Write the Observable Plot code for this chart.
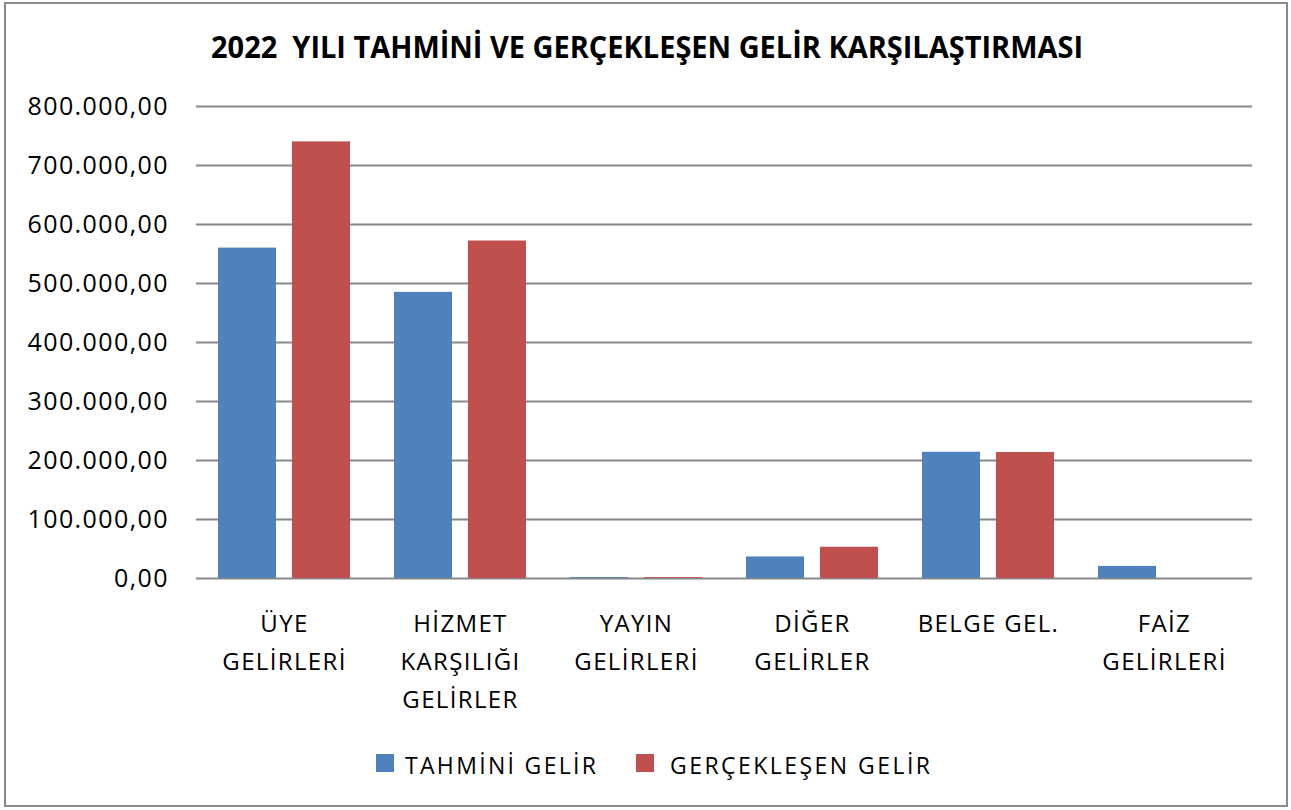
<!DOCTYPE html>
<html>
<head>
<meta charset="utf-8">
<script src="https://cdn.jsdelivr.net/npm/d3@7"></script>
<script src="https://cdn.jsdelivr.net/npm/@observablehq/plot@0.6"></script>
<style>
  html, body { margin: 0; padding: 0; background: #fff; }
  #page { position: relative; width: 1291px; height: 810px; overflow: hidden; font-family: "Open Sans", sans-serif; color: #000; }
  #frame { position: absolute; left: 4px; top: 2px; width: 1284px; height: 805px; border: 2px solid #8a8a8a; box-sizing: border-box; }
  #title { position: absolute; left: 211px; top: 26px; font: bold 30px "Open Sans", sans-serif; white-space: pre; transform-origin: 0 0; line-height: normal; }
  #chart { position: absolute; left: 0; top: 80px; }
  .leg-sw { position: absolute; width: 18px; height: 18px; }
  .leg-tx { position: absolute; font: 23px "Open Sans", sans-serif; white-space: nowrap; line-height: normal; }
</style>
</head>
<body>
<div id="page">
  <div id="frame"></div>
  <div id="title"></div>
  <div id="chart"></div>
  <div id="legend"></div>
</div>
<script>
// ---- data ----
const title = "2022  YILI TAHMİNİ VE GERÇEKLEŞEN GELİR KARŞILAŞTIRMASI";
const categories = ["ÜYE\nGELİRLERİ", "HİZMET\nKARŞILIĞI\nGELİRLER", "YAYIN\nGELİRLERİ", "DİĞER\nGELİRLER", "BELGE GEL.", "FAİZ\nGELİRLERİ"];
const series = ["TAHMİNİ GELİR", "GERÇEKLEŞEN GELİR"];
const tahmini = [560000, 485000, 1500, 36500, 214000, 20500];
const gerceklesen = [740000, 572000, 1500, 53000, 213500, 0];
const yTicks = [0, 100000, 200000, 300000, 400000, 500000, 600000, 700000, 800000];
const colors = ["#4F81BD", "#C0504D"];

const rows = categories.flatMap((c, i) => [
  {cat: c, series: series[0], value: tahmini[i]},
  {cat: c, series: series[1], value: gerceklesen[i]}
]);

const trFormat = d3.formatLocale({decimal: ",", thousands: ".", grouping: [3], currency: ["", ""]}).format(",.2f");

// text measuring helper
const ctx = document.createElement("canvas").getContext("2d");
function textWidth(t, font) { ctx.font = font; return ctx.measureText(t).width; }
function spacingFor(t, font, target) { return (target - textWidth(t, font)) / (t.length - 1); }

// ---- title ----
const titleEl = document.getElementById("title");
titleEl.textContent = title;
const tW = titleEl.getBoundingClientRect().width;
titleEl.style.transform = `scaleX(${872 / tW})`;

// ---- chart ----
const FONT = "Open Sans";
const chart = Plot.plot({
  width: 1291,
  height: 650,
  marginTop: 26,
  marginBottom: 152,
  marginLeft: 195,
  marginRight: 38,
  style: {fontFamily: FONT, color: "#000", background: "transparent"},
  fx: {domain: categories, padding: 0, axis: null, label: null},
  x: {domain: series, paddingInner: 0.216, paddingOuter: 0.297, axis: null},
  y: {domain: [0, 800000], axis: null},
  color: {domain: series, range: colors},
  marks: [
    Plot.ruleY(yTicks, {stroke: "#878787", strokeWidth: 2}),
    Plot.axisY(yTicks, {tickFormat: trFormat, tickSize: 0, tickPadding: 29, fontSize: 25, fill: "#000", label: null}),
    Plot.axisFx({anchor: "bottom", tickSize: 0, tickPadding: 27, fontSize: 24, lineHeight: 1.58, lineAnchor: "top", fill: "#000", label: null}),
    Plot.barY(rows, {fx: "cat", x: "series", y: "value", fill: "series"})
  ]
});
document.getElementById("chart").appendChild(chart);

// letter spacing to mimic the wide original text rendering
const ySp = spacingFor("800.000,00", `25px "${FONT}"`, 140);
const fxSp = spacingFor("GELİRLERİ", `24px "${FONT}"`, 123);
chart.querySelectorAll('g[aria-label="y-axis tick label"]').forEach(g => { g.style.letterSpacing = ySp + "px"; g.setAttribute("transform", (g.getAttribute("transform") || "") + ` translate(${ySp},0)`); });
chart.querySelectorAll('g[aria-label="fx-axis tick label"]').forEach(g => g.style.letterSpacing = fxSp + "px");

// ---- legend ----
const legend = document.getElementById("legend");
const legItems = [
  {sw: 376, tx: 405, target: 191},
  {sw: 636, tx: 670, target: 260}
];
series.forEach((s, i) => {
  const sw = document.createElement("div");
  sw.className = "leg-sw";
  sw.style.left = legItems[i].sw + "px";
  sw.style.top = "754px";
  sw.style.background = colors[i];
  legend.appendChild(sw);
  const tx = document.createElement("div");
  tx.className = "leg-tx";
  tx.textContent = s;
  tx.style.left = legItems[i].tx + "px";
  tx.style.top = "749px";
  tx.style.letterSpacing = spacingFor(s, `23px "${FONT}"`, legItems[i].target) + "px";
  legend.appendChild(tx);
});
</script>
</body>
</html>
